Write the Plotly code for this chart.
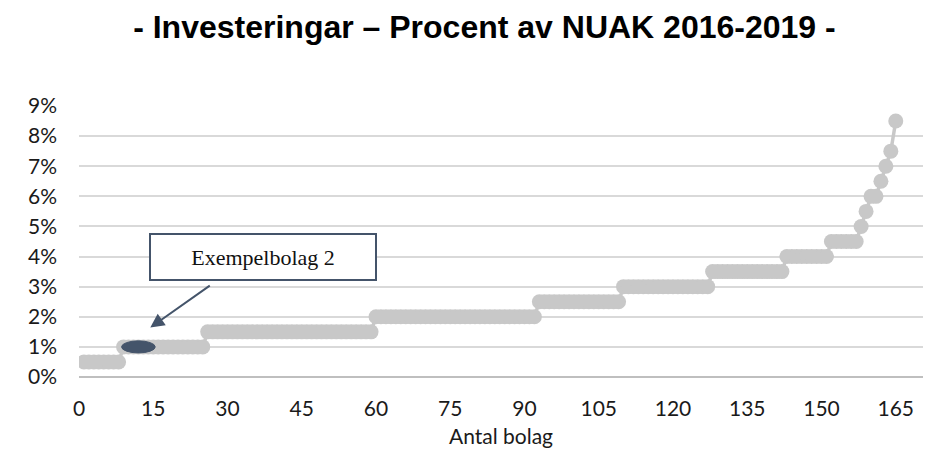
import plotly.graph_objects as go


# Andel av NUAK (%) per nivå och hur många bolag som ligger på varje nivå (sorterat stigande)
share_levels = [0.5, 1.0, 1.5, 2.0, 2.5, 3.0, 3.5, 4.0, 4.5, 5.0, 5.5, 6.0, 6.5, 7.0, 7.5, 8.5]
companies_per_level = [8, 17, 34, 33, 17, 18, 15, 9, 6, 1, 1, 2, 1, 1, 1, 1]

x_ticks = [0, 15, 30, 45, 60, 75, 90, 105, 120, 135, 150, 165]
y_ticks = [0, 1, 2, 3, 4, 5, 6, 7, 8, 9]
y_tick_labels = ['0%', '1%', '2%', '3%', '4%', '5%', '6%', '7%', '8%', '9%']

highlight_company = 12
highlight_label = 'Exempelbolag 2'

title_text = '- Investeringar – Procent av NUAK 2016-2019 -'
x_title = 'Antal bolag'

gray = '#C8C8C8'
navy = '#44546A'


def build_series():
    shares = []
    for level, n in zip(share_levels, companies_per_level):
        shares += [level] * n
    companies = list(range(1, len(shares) + 1))
    return companies, shares


def make_figure():
    companies, shares = build_series()
    hx = companies[highlight_company - 1]
    hy = shares[highlight_company - 1]

    fig = go.Figure()
    fig.add_trace(go.Scatter(
        x=companies,
        y=shares,
        mode='lines+markers',
        line=dict(color=gray, width=3.5),
        marker=dict(size=15, color=gray, line=dict(width=0)),
        hoverinfo='x+y',
        showlegend=False
    ))

    # markering av exempelbolaget
    fig.add_shape(
        type='circle', xref='x', yref='y',
        x0=hx - 3.4, x1=hx + 3.4, y0=hy - 0.2, y1=hy + 0.2,
        fillcolor=navy, line=dict(color=navy, width=1), layer='above'
    )

    fig.add_annotation(
        x=37.2, y=4.0, xref='x', yref='y',
        text=highlight_label, showarrow=False,
        font=dict(family='Liberation Serif, Times New Roman, serif', size=22, color='#111111'),
        width=222, height=42, borderpad=1,
        bordercolor=navy, borderwidth=2, bgcolor='white'
    )
    fig.add_annotation(
        x=14.4, y=1.64, xref='x', yref='y',
        text='', showarrow=True,
        ax=61, ay=-43, axref='pixel', ayref='pixel',
        arrowhead=2, arrowsize=1.4, arrowwidth=2, arrowcolor=navy
    )

    axis_font = dict(family='Lato, Calibri, sans-serif', size=21, color='#1a1a1a')

    fig.update_layout(
        width=928,
        height=450,
        margin=dict(l=79, r=5, t=106, b=73),
        paper_bgcolor='white',
        plot_bgcolor='white',
        title=dict(
            text=title_text,
            x=0.522, xanchor='center',
            y=1 - 27 / 450, yanchor='middle',
            font=dict(family='Liberation Sans, Arial, sans-serif', size=32, color='black', weight='bold')
        ),
        xaxis=dict(
            range=[0, 170.5],
            tickmode='array', tickvals=x_ticks,
            showgrid=False, zeroline=False, showline=False,
            ticks='', ticklabelstandoff=17,
            tickfont=axis_font,
            title=dict(text=x_title, font=axis_font, standoff=10)
        ),
        yaxis=dict(
            range=[0, 9],
            tickmode='array', tickvals=y_ticks, ticktext=y_tick_labels,
            showgrid=True, gridcolor='#D9D9D9', gridwidth=1.5,
            zeroline=True, zerolinecolor='#BFBFBF', zerolinewidth=2,
            showline=False, ticks='', ticklabelstandoff=21,
            tickfont=axis_font
        )
    )
    return fig


if __name__ == '__main__':
    fig = make_figure()
    # sidan ska börja i övre vänstra hörnet utan body-marginal
    fig.write_html('out.html', config={'displayModeBar': False},
                   post_script="document.body.style.margin='0px';")
